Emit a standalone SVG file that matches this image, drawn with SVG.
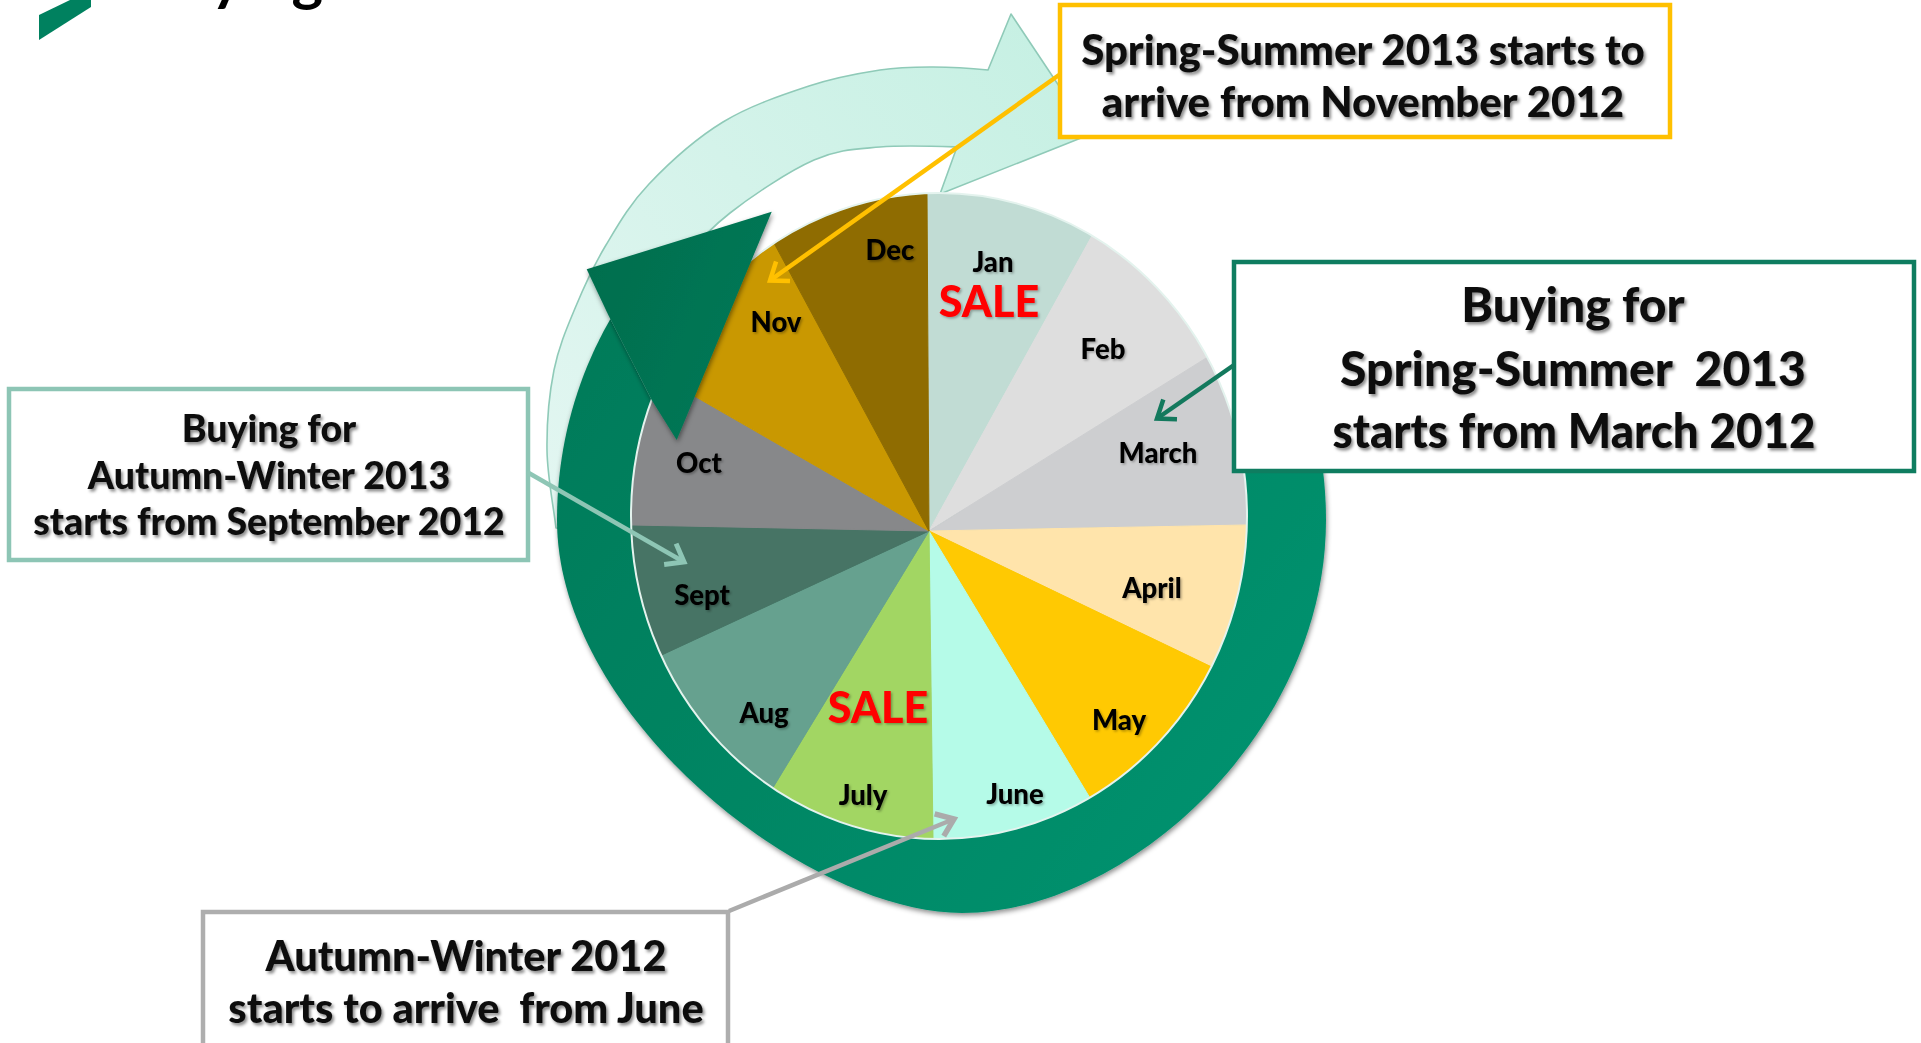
<svg xmlns="http://www.w3.org/2000/svg" width="1921" height="1043" viewBox="0 0 1921 1043">
  <defs>
    <style>
      .lbl { font-family: Lato, "Open Sans", "Liberation Sans", sans-serif; font-weight: 900; font-size: 27.5px; fill: #000; text-anchor: middle; }
      .sale { font-family: Lato, "Open Sans", "Liberation Sans", sans-serif; font-weight: 900; font-size: 43px; fill: #FF0000; text-anchor: middle; }
      .btxt { font-family: Lato, "Open Sans", "Liberation Sans", sans-serif; font-weight: 900; fill: #111; text-anchor: middle; }
      .box { fill: #FFFFFF; stroke-width: 4.5; }
      .conn { fill: none; stroke-width: 4.5; stroke-linecap: butt; }
      .m-jan { fill: #C1DCD4; stroke: #C1DCD4; }
      .m-feb { fill: #DEDEDE; stroke: #DEDEDE; }
      .m-mar { fill: #CDCED0; stroke: #CDCED0; }
      .m-apr { fill: #FFE4AB; stroke: #FFE4AB; }
      .m-may { fill: #FFC902; stroke: #FFC902; }
      .m-jun { fill: #B5FBE8; stroke: #B5FBE8; }
      .m-jul { fill: #A2D663; stroke: #A2D663; }
      .m-aug { fill: #66A18F; stroke: #66A18F; }
      .m-sep { fill: #477465; stroke: #477465; }
      .m-oct { fill: #87888A; stroke: #87888A; }
      .m-nov { fill: #C99801; stroke: #C99801; }
      .m-dec { fill: #8F6C01; stroke: #8F6C01; }
    </style>

    <filter id="txtShadow" x="-5%" y="-15%" width="112%" height="140%">
      <feDropShadow dx="2" dy="2.5" stdDeviation="1.6" flood-color="#000" flood-opacity="0.45"/>
    </filter>
    <filter id="lblShadow" x="-10%" y="-20%" width="125%" height="150%">
      <feDropShadow dx="1.5" dy="1.5" stdDeviation="1.2" flood-color="#000" flood-opacity="0.3"/>
    </filter>
    <filter id="ringShadow" x="-10%" y="-10%" width="120%" height="120%">
      <feDropShadow dx="1" dy="2.5" stdDeviation="2.5" flood-color="#000" flood-opacity="0.45"/>
    </filter>

    <linearGradient id="ringGrad" x1="560" y1="300" x2="1320" y2="860" gradientUnits="userSpaceOnUse">
      <stop offset="0" stop-color="#007A58"/>
      <stop offset="1" stop-color="#009471"/>
    </linearGradient>
    <linearGradient id="headGrad" x1="590" y1="260" x2="770" y2="330" gradientUnits="userSpaceOnUse">
      <stop offset="0" stop-color="#006E4E"/>
      <stop offset="0.8" stop-color="#007654"/>
      <stop offset="1" stop-color="#138E6A"/>
    </linearGradient>
    <linearGradient id="seasonGrad" x1="560" y1="500" x2="1090" y2="80" gradientUnits="userSpaceOnUse">
      <stop offset="0" stop-color="#E2F6F1"/>
      <stop offset="1" stop-color="#C6F0E3"/>
    </linearGradient>

    <clipPath id="pieClip">
      <ellipse cx="939" cy="516" rx="308" ry="323"/>
    </clipPath>
    <!-- keeps the ring body off the open top arc between its head and its start -->
    <clipPath id="ringClip">
      <polygon points="0,145 521.5,145 716.8,527.5 939,516 1500,385 1921,385 1921,1043 0,1043"/>
    </clipPath>

    <marker id="arrYellow" markerUnits="userSpaceOnUse" orient="auto" markerWidth="30" markerHeight="30" viewBox="-20 -15 24 30" refX="0" refY="0" overflow="visible">
      <path d="M-16,-12 L0,0 L-16,12" fill="none" stroke="#FFC000" stroke-width="4.5"/>
    </marker>
    <marker id="arrGreen" markerUnits="userSpaceOnUse" orient="auto" markerWidth="30" markerHeight="30" viewBox="-20 -15 24 30" refX="0" refY="0" overflow="visible">
      <path d="M-16,-12 L0,0 L-16,12" fill="none" stroke="#13795D" stroke-width="4.5"/>
    </marker>
    <marker id="arrMint" markerUnits="userSpaceOnUse" orient="auto" markerWidth="30" markerHeight="30" viewBox="-20 -15 24 30" refX="0" refY="0" overflow="visible">
      <path d="M-16,-12 L0,0 L-16,12" fill="none" stroke="#8EC6B5" stroke-width="5"/>
    </marker>
    <marker id="arrGray" markerUnits="userSpaceOnUse" orient="auto" markerWidth="30" markerHeight="30" viewBox="-20 -15 24 30" refX="0" refY="0" overflow="visible">
      <path d="M-16,-12 L0,0 L-16,12" fill="none" stroke="#ABABAB" stroke-width="5.5"/>
    </marker>
  </defs>

  <rect x="0" y="0" width="1921" height="1043" fill="#FFFFFF"/>

  <!-- heading strip, cut by the top edge -->
  <g id="title">
    <polygon points="70,0 91,0 91,7 39,40 39,15" fill="#00815F"/>
    <text x="138" y="-1.5" font-family="Lato, 'Open Sans', 'Liberation Sans', sans-serif" font-weight="700" font-size="60" fill="#000">Buying</text>
  </g>

  <!-- pale arrow: season arrival, sweeping over the top -->
  <g id="season-arrow">
    <path d="M556,528 C553,503 547.33,476.33 547,450 C546.67,423.67 549.17,394 554,370 C558.83,346 567.33,326.83 576,306 C584.67,285.17 593.83,265.33 606,245 C618.17,224.67 629.5,204.5 649,184 C668.5,163.5 696.33,138.33 723,122 C749.67,105.67 782.83,94.67 809,86 C835.17,77.33 859.33,73.17 880,70 C900.67,66.83 915,67 933,67 C951,67 970.17,68.17 988,70 L1011,14 L1091,134 L940,194 L957,147 C935.33,146.17 903.83,144.83 880,147 C856.17,149.17 839,149 814,160 C789,171 752.33,195.5 730,213 C707.67,230.5 694.17,245.5 680,265 C665.83,284.5 654.17,305.83 645,330 C635.83,354.17 628.83,383.33 625,410 C621.17,436.67 621.5,470 622,490 C622.5,510 625,511.67 628,530 Z" fill="url(#seasonGrad)" stroke="#8FCAB8" stroke-width="1.6" stroke-linejoin="round"/>
  </g>

  <!-- dark circular arrow: body -->
  <g id="buying-cycle-ring" filter="url(#ringShadow)">
    <path clip-path="url(#ringClip)" d="M557,520 C557,716 806,913 962,913 C1125,913 1326,735 1326,520 C1326,302 1153,125 940,125 C729,125 557,302 557,520 Z" fill="url(#ringGrad)"/>
  </g>

  <!-- month wheel -->
  <g id="month-wheel">
    <g clip-path="url(#pieClip)">
      <g id="month-jan"><polygon class="m-jan" points="929,531 925,-145 1247,-45"/></g>
      <g id="month-feb"><polygon class="m-feb" points="929,531 1247,-45 1477,189"/></g>
      <g id="month-mar"><polygon class="m-mar" points="929,531 1477,189 1563,519"/></g>
      <g id="month-apr"><polygon class="m-apr" points="929,531 1563,519 1511,811"/></g>
      <g id="month-may"><polygon class="m-may" points="929,531 1511,811 1257,1075"/></g>
      <g id="month-jun"><polygon class="m-jun" points="929,531 1257,1075 937,1145"/></g>
      <g id="month-jul"><polygon class="m-jul" points="929,531 937,1145 625,1031"/></g>
      <g id="month-aug"><polygon class="m-aug" points="929,531 625,1031 403,775"/></g>
      <g id="month-sep"><polygon class="m-sep" points="929,531 403,775 335,519"/></g>
      <g id="month-oct"><polygon class="m-oct" points="929,531 335,519 463,263"/></g>
      <g id="month-nov"><polygon class="m-nov" points="929,531 463,263 619,-45"/></g>
      <g id="month-dec"><polygon class="m-dec" points="929,531 619,-45 925,-145"/></g>
    </g>
    <ellipse cx="939" cy="516" rx="308" ry="323" fill="none" stroke="#E4F3EE" stroke-width="2"/>
    <g id="month-labels" filter="url(#lblShadow)">
      <text class="lbl" x="993" y="272">Jan</text>
      <text class="sale" x="989" y="317">SALE</text>
      <text class="lbl" x="1103" y="359">Feb</text>
      <text class="lbl" x="1158" y="463">March</text>
      <text class="lbl" x="1152" y="598">April</text>
      <text class="lbl" x="1119" y="730">May</text>
      <text class="lbl" x="1015" y="804">June</text>
      <text class="lbl" x="863" y="805">July</text>
      <text class="sale" x="878" y="723">SALE</text>
      <text class="lbl" x="764" y="723">Aug</text>
      <text class="lbl" x="702" y="605">Sept</text>
      <text class="lbl" x="699" y="473">Oct</text>
      <text class="lbl" x="776" y="332">Nov</text>
      <text class="lbl" x="890" y="260">Dec</text>
    </g>
  </g>

  <!-- dark circular arrow: head -->
  <g id="buying-cycle-head" filter="url(#ringShadow)">
    <polygon points="771.7,211.7 586.7,269.3 608.3,315 651.7,400 676.7,440" fill="url(#headGrad)"/>
  </g>

  <!-- callout boxes -->
  <g id="box-ss13-arrival">
    <rect class="box" x="1060" y="5" width="610" height="132" stroke="#FFC000"/>
    <g filter="url(#txtShadow)">
      <text class="btxt" x="1363" y="65" font-size="42">Spring-Summer 2013 starts to</text>
      <text class="btxt" x="1363" y="117" font-size="42">arrive from November 2012</text>
    </g>
  </g>

  <g id="box-ss13-buying">
    <rect class="box" x="1234" y="262" width="680" height="209" stroke="#0F7D60" stroke-width="4"/>
    <g filter="url(#txtShadow)">
      <text class="btxt" x="1573" y="322" font-size="48">Buying for</text>
      <text class="btxt" x="1573" y="386" font-size="48" xml:space="preserve">Spring-Summer  2013</text>
      <text class="btxt" x="1574" y="448" font-size="48" textLength="483" lengthAdjust="spacingAndGlyphs">starts from March 2012</text>
    </g>
  </g>

  <g id="box-aw13-buying">
    <rect class="box" x="9" y="389" width="519" height="171" stroke="#8DC5B5"/>
    <g filter="url(#txtShadow)">
      <text class="btxt" x="269" y="442" font-size="37.5">Buying for</text>
      <text class="btxt" x="269" y="489" font-size="37.5">Autumn-Winter 2013</text>
      <text class="btxt" x="269" y="535" font-size="37.5">starts from September 2012</text>
    </g>
  </g>

  <g id="box-aw12-arrival">
    <rect class="box" x="203" y="912" width="525" height="200" stroke="#AEAEAE"/>
    <g filter="url(#txtShadow)">
      <text class="btxt" x="466" y="971" font-size="41.5">Autumn-Winter 2012</text>
      <text class="btxt" x="466" y="1023" font-size="41.5" xml:space="preserve">starts to arrive  from June</text>
    </g>
  </g>

  <!-- connectors -->
  <g id="connectors">
    <line class="conn" x1="1059" y1="75" x2="770" y2="280.5" stroke="#FFC000" marker-end="url(#arrYellow)"/>
    <line class="conn" x1="1234" y1="365" x2="1157" y2="418.5" stroke="#13795D" marker-end="url(#arrGreen)"/>
    <line class="conn" x1="527" y1="472" x2="684" y2="562" stroke="#8EC6B5" stroke-width="5" marker-end="url(#arrMint)"/>
    <line class="conn" x1="729" y1="911" x2="954" y2="819" stroke="#ABABAB" stroke-width="5.5" marker-end="url(#arrGray)"/>
  </g>
</svg>
